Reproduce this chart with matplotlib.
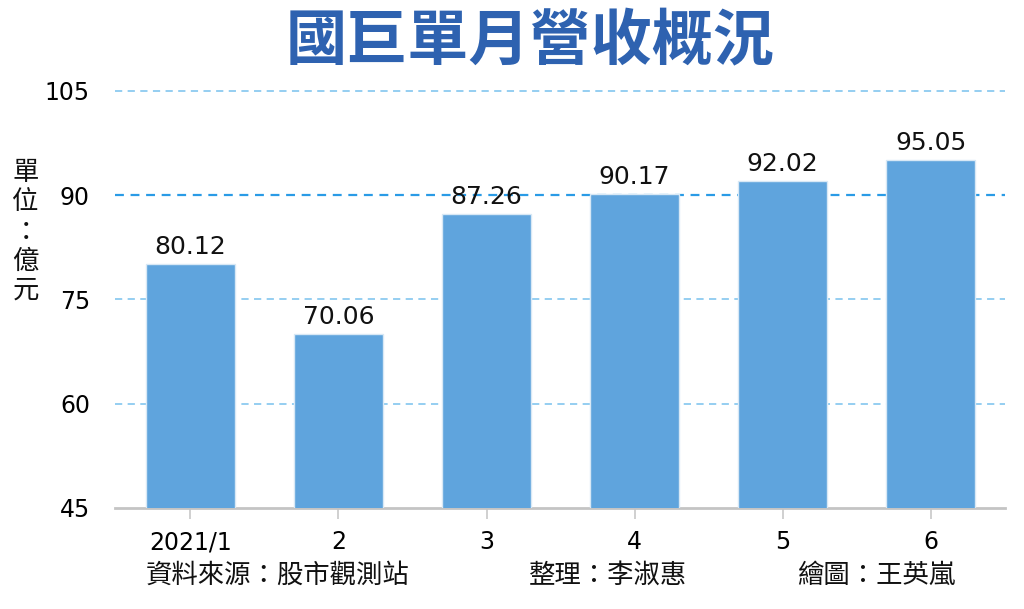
import matplotlib.pyplot as plt

plt.rcParams['font.family'] = ['Noto Sans CJK TC', 'DejaVu Sans']

months = ['2021/1', '2', '3', '4', '5', '6']
revenue = [80.12, 70.06, 87.26, 90.17, 92.02, 95.05]
yticks = [45, 60, 75, 90, 105]

fig = plt.figure(figsize=(10.24, 6.09), dpi=100)
ax = fig.add_axes([0.1123, 0.166, 0.8687, 0.6846])

x = range(len(months))
ax.bar(x, revenue, width=0.6, color='#5fa4dd', edgecolor='#d8e8f5', linewidth=1, zorder=3)
for i, v in enumerate(revenue):
    ax.text(i, v + 0.7, f'{v:.2f}', ha='center', va='bottom', fontsize=18, color='#111111',
            family='DejaVu Sans', zorder=4)

ax.set_ylim(45, 105)
ax.set_xlim(-0.51, 5.5)
ax.set_yticks(yticks)
ax.set_yticklabels([str(t) for t in yticks], fontsize=17, family='DejaVu Sans')
for t in yticks[1:]:
    if t == 90:
        ax.axhline(t, color='#2a9be6', linestyle=(0, (4, 3)), linewidth=1.6, zorder=1, clip_on=False)
    else:
        ax.axhline(t, color='#8ccaf0', linestyle=(0, (4, 3)), linewidth=1.3, zorder=1, clip_on=False)

ax.set_xticks(list(x))
ax.set_xticklabels(months, fontsize=17, family='DejaVu Sans')
ax.tick_params(axis='y', length=0, pad=18)
ax.tick_params(axis='x', length=8, color='#c8c8c8', width=1.2, pad=8)

for s in ['top', 'right', 'left']:
    ax.spines[s].set_visible(False)
ax.spines['bottom'].set_color('#c4c4c4')
ax.spines['bottom'].set_linewidth(2)

fig.text(0.518, 0.93, '國巨單月營收概況', ha='center', va='center', fontsize=44,
         fontweight='bold', color='#2e62b0')

fig.text(0.025, 0.62, '單\n位\n：\n億\n元', ha='center', va='center', fontsize=19,
         linespacing=1.12, color='#111111')

fig.text(0.142, 0.056, '資料來源：股市觀測站', ha='left', va='center', fontsize=19, color='#111111')
fig.text(0.517, 0.056, '整理：李淑惠', ha='left', va='center', fontsize=19, color='#111111')
fig.text(0.778, 0.056, '繪圖：王英嵐', ha='left', va='center', fontsize=19, color='#111111')

fig.savefig('out.png', dpi=100)
